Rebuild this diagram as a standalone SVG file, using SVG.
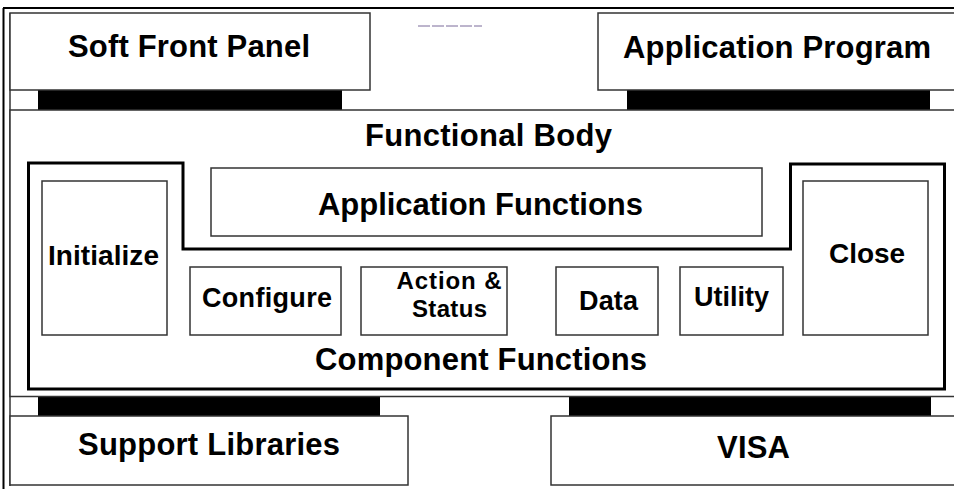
<svg xmlns="http://www.w3.org/2000/svg" width="954" height="489" viewBox="0 0 954 489">
<style>
.box{fill:#fff;stroke:#333;stroke-width:1.5}
.bar{fill:#000}
.t{font-family:"Liberation Sans",Arial,sans-serif;font-weight:bold;fill:#000;text-anchor:middle}
.h{font-size:31px}
.m{font-size:28px}
.s{font-size:27px}
.a{font-size:24px}
</style>
<rect width="954" height="489" fill="#fff"/>
<g id="frame">
<line x1="3" y1="8" x2="954" y2="8" stroke="#000" stroke-width="2"/>
<line x1="3.5" y1="8" x2="3.5" y2="489" stroke="#000" stroke-width="2"/>
<line x1="10" y1="13" x2="10" y2="486" stroke="#333" stroke-width="1.5"/>
<line x1="418" y1="26" x2="482" y2="26" stroke="#7a6a9a" stroke-width="1" stroke-dasharray="12,2"/>
</g>
<g id="connectors">
<rect class="bar" x="38" y="90" width="304" height="20"/>
<rect class="bar" x="627" y="90" width="303" height="20"/>
<rect class="bar" x="38" y="397" width="342" height="19"/>
<rect class="bar" x="569" y="397" width="362" height="19"/>
</g>
<g id="soft-front-panel">
<rect class="box" x="10" y="13" width="360" height="77"/>
<text class="t h" x="189" y="57" textLength="242" lengthAdjust="spacing">Soft Front Panel</text>
</g>
<g id="application-program">
<rect class="box" x="598" y="13" width="360" height="77"/>
<text class="t h" x="777" y="58" textLength="308" lengthAdjust="spacing">Application Program</text>
</g>
<g id="functional-body">
<rect class="box" x="10" y="110" width="950" height="286.5"/>
<text class="t h" x="488.5" y="146" textLength="247" lengthAdjust="spacing">Functional Body</text>
</g>
<g id="component-functions">
<path d="M28.5,163 H183 V249 H790.5 V164 H944.5 V389 H28.5 Z" fill="none" stroke="#000" stroke-width="3"/>
<text class="t h" x="481" y="370" textLength="332" lengthAdjust="spacing">Component Functions</text>
</g>
<g id="application-functions">
<rect class="box" x="211" y="168" width="551" height="68"/>
<text class="t h" x="480.5" y="215" textLength="325" lengthAdjust="spacing">Application Functions</text>
</g>
<g id="initialize">
<rect class="box" x="42" y="181" width="125" height="154"/>
<text class="t m" x="103.5" y="265" textLength="111" lengthAdjust="spacing">Initialize</text>
</g>
<g id="close">
<rect class="box" x="803" y="181" width="125" height="154"/>
<text class="t m" x="867" y="263" textLength="76" lengthAdjust="spacing">Close</text>
</g>
<g id="configure">
<rect class="box" x="190" y="267" width="151" height="68"/>
<text class="t s" x="267" y="306.5" textLength="130" lengthAdjust="spacing">Configure</text>
</g>
<g id="action-status">
<rect class="box" x="361" y="267" width="146" height="68"/>
<text class="t a" x="449" y="289" textLength="105" lengthAdjust="spacing">Action &amp;</text>
<text class="t a" x="449.5" y="317" textLength="75" lengthAdjust="spacing">Status</text>
</g>
<g id="data">
<rect class="box" x="556" y="267" width="102" height="68"/>
<text class="t s" x="608.5" y="310" textLength="59" lengthAdjust="spacing">Data</text>
</g>
<g id="utility">
<rect class="box" x="680" y="267" width="103" height="68"/>
<text class="t s" x="731.5" y="306" textLength="75" lengthAdjust="spacing">Utility</text>
</g>
<g id="support-libraries">
<rect class="box" x="10" y="416" width="398" height="69"/>
<text class="t h" x="209" y="455" textLength="262" lengthAdjust="spacing">Support Libraries</text>
</g>
<g id="visa">
<rect class="box" x="551" y="416" width="410" height="69"/>
<text class="t h" x="753.5" y="458" textLength="73" lengthAdjust="spacing">VISA</text>
</g>
</svg>
